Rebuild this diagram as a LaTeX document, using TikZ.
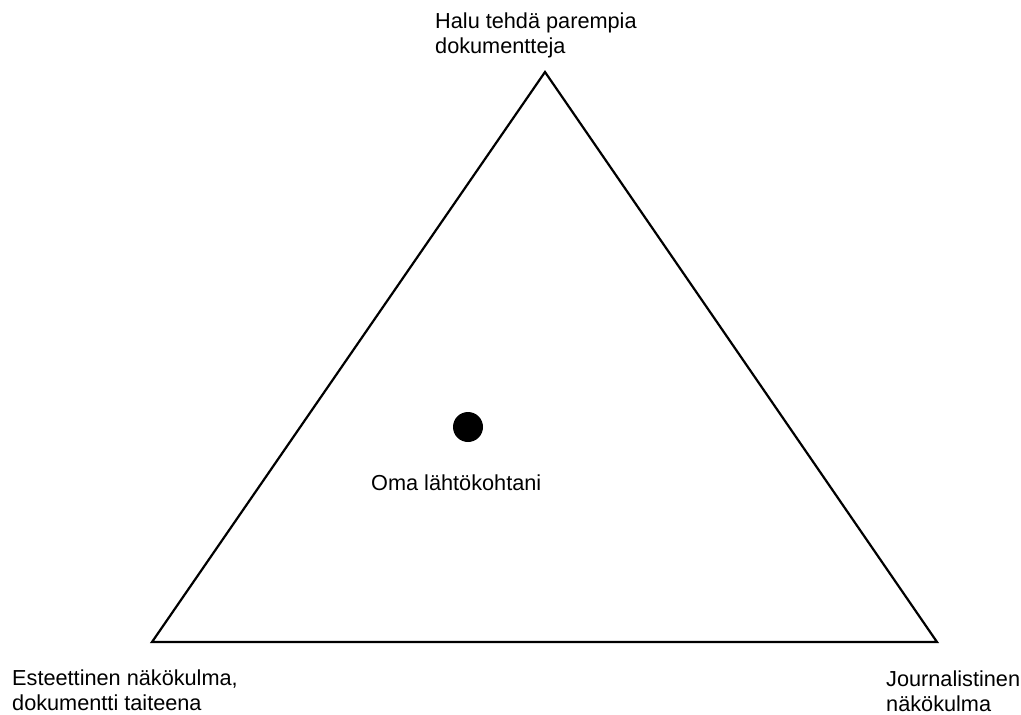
\documentclass[tikz,border=0pt]{standalone}
\usepackage{fontspec}
\setmainfont{Liberation Sans}
\begin{document}
\begin{tikzpicture}[x=1pt,y=-1pt,
  lbl/.style={anchor=north west, inner sep=0pt, align=left, font=\fontsize{21.7}{24.8}\selectfont},
  edge/.style={draw=black, line width=2.2pt, line join=miter}]
\useasboundingbox (0,0) rectangle (1021,715);
\coordinate (top) at (545,72);
\coordinate (bl) at (152,642);
\coordinate (br) at (937,642);
\draw[edge] (top) -- (bl) -- (br) -- cycle;
\node[circle, fill=black, inner sep=0pt, minimum size=30pt] (dot) at (468,427) {};
\node[lbl] (lt) at (435,12.5) {Halu tehdä parempia\\dokumentteja};
\node[lbl] (ll) at (12,670) {Esteettinen näkökulma,\\dokumentti taiteena};
\node[lbl] (lr) at (886,670.5) {Journalistinen\\näkökulma};
\node[lbl] (ld) at (371,475) {Oma lähtökohtani};
\end{tikzpicture}
\end{document}
